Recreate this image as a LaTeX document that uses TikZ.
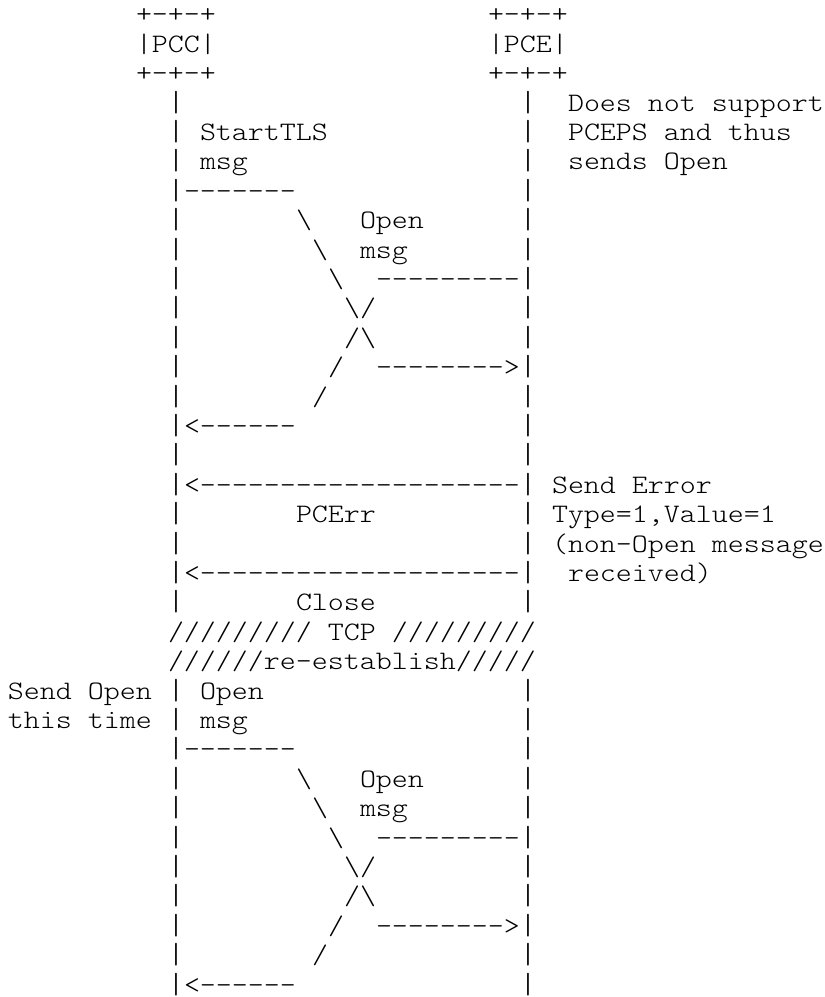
\documentclass[tikz,border=0pt]{standalone}
\usepackage{fontspec}
\setmonofont{lmmonolt10-regular.otf}[FakeStretch=1.1429]

\begin{document}
\begin{tikzpicture}[x=8pt, y=-14.7pt,
		ascii/.style={font=\ttfamily\fontsize{13.33pt}{14.7pt}\selectfont, anchor=base west, inner sep=0pt, outer sep=0pt},
		lifeline/.style={font=\ttfamily\fontsize{14.5pt}{14.7pt}\selectfont, anchor=base, inner sep=0pt, outer sep=0pt}]
		 	\useasboundingbox (-0.5, 0.218) rectangle (51.0625, 34.13);
		 	\node[ascii] (pcctop) at (8, 1) {+-+-+};
		 	\node[ascii] (pcc) at (8, 2) {|PCC|};
		 	\node[ascii] (pccbot) at (8, 3) {+-+-+};
		 	\node[ascii] (pcetop) at (30, 1) {+-+-+};
		 	\node[ascii] (pce) at (30, 2) {|PCE|};
		 	\node[ascii] (pcebot) at (30, 3) {+-+-+};
		 	\foreach \r in {4,...,21,24,25,...,34} {
		 		\node[lifeline] (pccline\r) at (10.5, \r) {|};
		 		\node[lifeline] (pceline\r) at (32.5, \r) {|};
		 	}

		 	\node[ascii] (nosupport) at (35, 4) {Does not support};
		 	\node[ascii] (pceps) at (35, 5) {PCEPS and thus};
		 	\node[ascii] (sendsopen) at (35, 6) {sends Open};
		 	\node[ascii] (starttls) at (12, 5) {StartTLS};
		 	\node[ascii] (starttlsmsg) at (12, 6) {msg};

		 	\foreach \t in {0, 19} {
		 		\node[ascii] (pccout\t) at (11, 7+\t) {-------};
		 		\node[ascii] (pccdown\t a) at (18, 8+\t) {\textbackslash};
		 		\node[ascii] (pceopen\t) at (22, 8+\t) {Open};
		 		\node[ascii] (pccdown\t b) at (19, 9+\t) {\textbackslash};
		 		\node[ascii] (pceopenmsg\t) at (22, 9+\t) {msg};
		 		\node[ascii] (pccdown\t c) at (20, 10+\t) {\textbackslash};
		 		\node[ascii] (pceout\t) at (23, 10+\t) {---------};
		 		\node[ascii] (cross\t a) at (21, 11+\t) {\textbackslash/};
		 		\node[ascii] (cross\t b) at (21, 12+\t) {/\textbackslash};
		 		\node[ascii] (pceup\t a) at (20, 13+\t) {/};
		 		\node[ascii] (pcein\t) at (23, 13+\t) {-------->};
		 		\node[ascii] (pceup\t b) at (19, 14+\t) {/};
		 		\node[ascii] (pccin\t) at (11, 15+\t) {<------};
		 	}

		 	\node[ascii] (pcerr) at (11, 17) {<--------------------};
		 	\node[ascii] (senderror) at (34, 17) {Send Error};
		 	\node[ascii] (pcerrlabel) at (18, 18) {PCErr};
		 	\node[ascii] (errtype) at (34, 18) {Type=1,Value=1};
		 	\node[ascii] (errwhy) at (34, 19) {(non-Open message};
		 	\node[ascii] (close) at (11, 20) {<--------------------};
		 	\node[ascii] (errwhyb) at (35, 20) {received)};
		 	\node[ascii] (closelabel) at (18, 21) {Close};
		 	\node[ascii] (tcp) at (10, 22) {///////// TCP /////////};
		 	\node[ascii] (reestablish) at (10, 23) {//////re-establish/////};
		 	\node[ascii] (sendopen) at (0, 24) {Send Open};
		 	\node[ascii] (thistime) at (0, 25) {this time};
		 	\node[ascii] (pccopen) at (12, 24) {Open};
		 	\node[ascii] (pccopenmsg) at (12, 25) {msg};
		\end{tikzpicture}
\end{document}
